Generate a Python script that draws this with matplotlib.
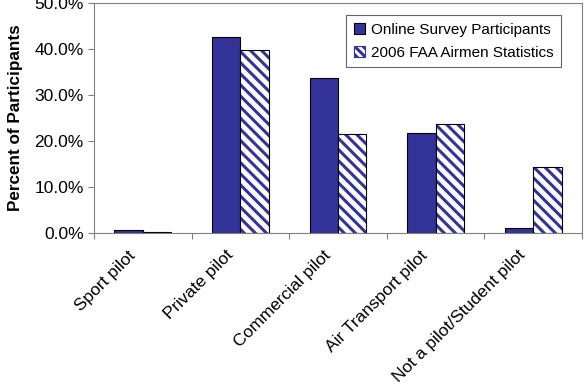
import matplotlib
matplotlib.use("Agg")
import matplotlib.pyplot as plt
import matplotlib.transforms as mtransforms
import numpy as np
from matplotlib.ticker import FuncFormatter
from matplotlib.patches import Patch

plt.rcParams['font.family'] = ['Liberation Sans', 'DejaVu Sans']
plt.rcParams['hatch.linewidth'] = 2.2

categories = ["Sport pilot", "Private pilot", "Commercial pilot",
              "Air Transport pilot", "Not a pilot/Student pilot"]
online = [0.7, 42.5, 33.8, 21.8, 1.1]
faa = [0.3, 39.7, 21.5, 23.7, 14.3]

fig = plt.figure(figsize=(5.87, 3.84), dpi=100)
ax = fig.add_axes([94/587, 1 - 233/384, 488/587, 230/384])

x = np.arange(len(categories))
w = 0.29
ax.bar(x - w/2, online, w, color='#333399', edgecolor='black', linewidth=0.8)
# hatch drawn in blue, outline on top in black
ax.bar(x + w/2, faa, w, color='white', edgecolor='#333399', linewidth=0,
       hatch='\\\\\\')
ax.bar(x + w/2, faa, w, fill=False, edgecolor='black', linewidth=0.8)
# proxies for legend
h1 = Patch(facecolor='#333399', edgecolor='black', linewidth=0.8)
h2 = Patch(facecolor='white', edgecolor='#333399', hatch='\\\\\\\\', linewidth=0.8)

ax.set_xlim(-0.5, len(categories) - 0.5)
ax.set_ylim(0, 50)
ax.set_yticks(np.arange(0, 51, 10))
ax.yaxis.set_major_formatter(FuncFormatter(lambda v, p: "%.1f%%" % v))
ax.set_xticks(np.arange(-0.5, len(categories), 1.0))
ax.set_xticklabels([])

# category labels as rotated texts, nudged left/down like the original
shift = mtransforms.ScaledTranslation(-10/100, -20/100, fig.dpi_scale_trans)
for xi, name in zip(x, categories):
    ax.text(xi, 0, name, transform=ax.get_xaxis_transform() + shift,
            rotation=45, ha='right', va='center', rotation_mode='anchor',
            fontsize=12.5)

ax.tick_params(axis='x', which='major', length=4, direction='out', color='#808080')
ax.tick_params(axis='y', length=4, direction='out', labelsize=12.5, color='#808080')
for s in ax.spines.values():
    s.set_color('#808080')
ax.set_ylabel('Percent of Participants', fontsize=12.3, fontweight='bold', labelpad=8)

leg = ax.legend([h1, h2], ['Online Survey Participants', '2006 FAA Airmen Statistics'],
                loc='upper right', bbox_to_anchor=(0.957, 0.948), fontsize=11,
                frameon=True, fancybox=False, edgecolor='#404040',
                handlelength=0.75, handleheight=0.75, handletextpad=0.35,
                borderpad=0.5, labelspacing=0.6, borderaxespad=0)
leg.get_frame().set_linewidth(0.8)

fig.savefig("out.png", dpi=100)
